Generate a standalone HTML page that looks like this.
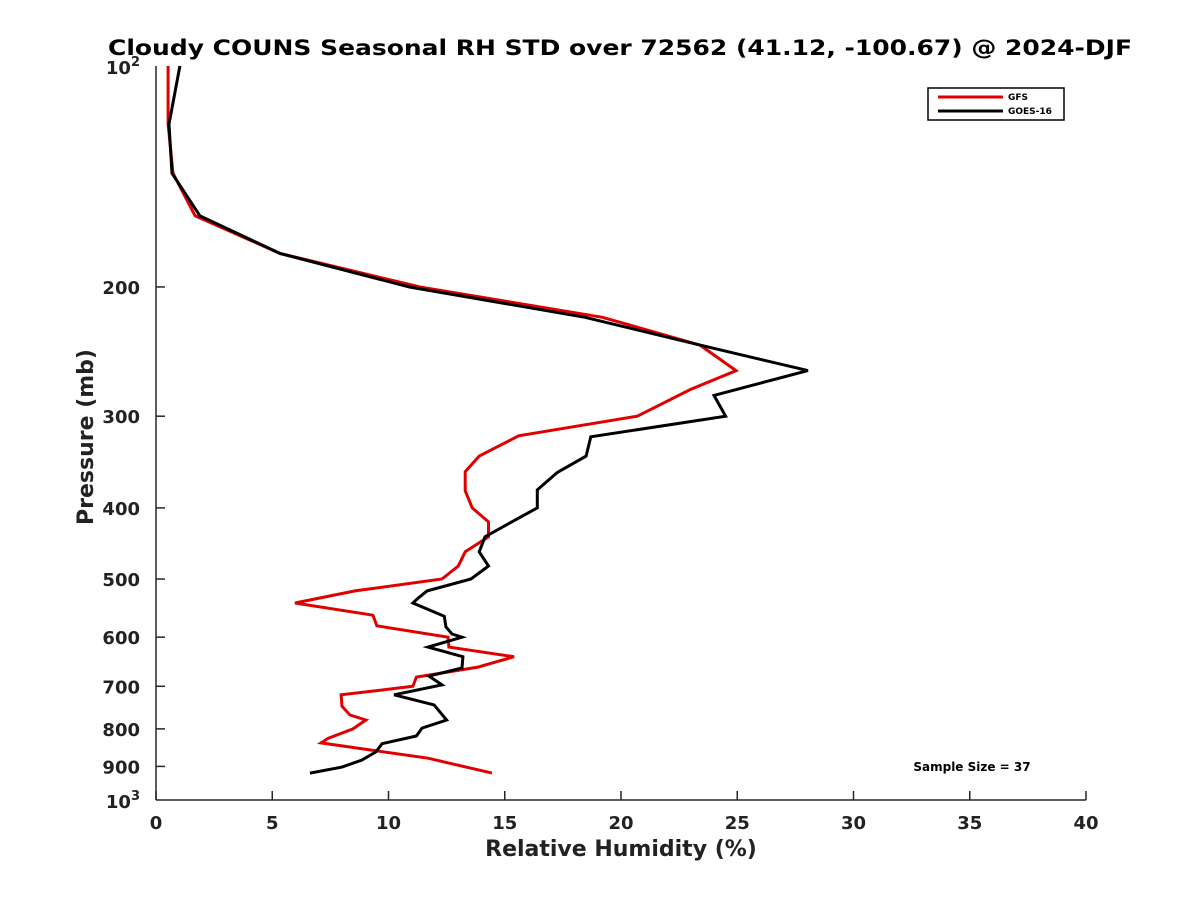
<!DOCTYPE html>
<html><head><meta charset="utf-8"><style>
html,body{margin:0;padding:0;background:#fff;}
svg{display:block;font-family:"DejaVu Sans","Liberation Sans",sans-serif;}
</style></head><body>
<svg id="chart" width="1200" height="900">
<rect width="1200" height="900" fill="#fff"/>
<text x="620" y="55" text-anchor="middle" font-size="21" font-weight="bold" fill="#000" textLength="1024" lengthAdjust="spacingAndGlyphs">Cloudy COUNS Seasonal RH STD over 72562 (41.12, -100.67) @ 2024-DJF</text>
<g id="axes"></g>
<g id="series"></g>
<g>
<rect x="928" y="88" width="136" height="32" fill="#fff" stroke="#000" stroke-width="1.5"/>
<line x1="938" y1="97" x2="1003" y2="97" stroke="#e00000" stroke-width="3"/>
<text x="1008" y="100" font-size="9" font-weight="bold">GFS</text>
<line x1="938" y1="111" x2="1003" y2="111" stroke="#000" stroke-width="3"/>
<text x="1008" y="114" font-size="9" font-weight="bold">GOES-16</text>
</g>
<text x="972" y="771" text-anchor="middle" font-size="12" font-weight="bold">Sample Size = 37</text>
<text x="621" y="856" text-anchor="middle" font-size="22" font-weight="bold" fill="#222">Relative Humidity (%)</text>
<text transform="translate(93,437) rotate(-90)" text-anchor="middle" font-size="22" font-weight="bold" fill="#222">Pressure (mb)</text>
</svg>
<script>
const xTicks=[0,5,10,15,20,25,30,35,40];
const yTicks=[200,300,400,500,600,700,800,900];
const gfsRH=[0.52,0.52,0.73,1.68,5.33,11.35,19.2,23.4,24.95,22.97,20.7,15.6,13.9,13.3,13.3,13.6,14.3,14.3,13.3,13.0,12.3,8.56,5.98,9.33,9.5,12.56,12.6,15.4,13.85,11.2,11.05,7.96,8.0,8.34,9.03,8.47,7.4,7.1,11.7,14.45];
const gfsP=[100,120,140,160,180,200,220,240,260,276,300,319,340,357,379,400,418,438,459,480,500,519,539,560,579,600,619,638,659,680,700,719,745,766,778,800,824,836,877,919];
const goesRH=[1.03,0.56,0.69,1.89,5.33,10.9,18.45,23.4,28.04,24.0,24.5,18.7,18.5,17.25,16.4,16.4,15.3,14.15,13.9,14.3,13.55,11.66,11.27,11.05,12.4,12.47,12.73,13.16,11.7,13.2,13.16,11.74,12.3,10.24,11.96,12.5,11.44,11.2,9.72,9.46,8.86,8.0,6.62];
const goesP=[100,120,140,160,180,200,220,240,260,281,300,320,340,358,378,400,418,438,459,480,500,519,531,539,562,581,594,600,619,638,661,678,697,719,742,778,798,818,838,860,882,902,919];
const NS='http://www.w3.org/2000/svg';
const X0=156,X1=1086,Y0=66,Y1=800;
function xs(v){return X0+(v-0)/40*(X1-X0);}
function ys(p){return Y0+(Math.log10(p)-2)*(Y1-Y0);}
const axes=document.getElementById('axes');
function mk(tag,attrs,parent){const e=document.createElementNS(NS,tag);for(const k in attrs)e.setAttribute(k,attrs[k]);parent.appendChild(e);return e;}
const la=mk('line',{x1:X0,y1:Y0,x2:X0,y2:Y1,stroke:'#262626','stroke-width':1.5},axes);


const ba=mk('line',{x1:X0,y1:Y1,x2:X1,y2:Y1,stroke:'#262626','stroke-width':1.5},axes);


xTicks.forEach(v=>{
 const t=mk('line',{x1:xs(v),y1:Y1,x2:xs(v),y2:Y1-9,stroke:'#262626','stroke-width':1.5},axes);
 
 
 const l=mk('text',{x:xs(v),y:Y1+29,'text-anchor':'middle','font-size':18,'font-weight':'bold',fill:'#222'},axes);
 l.textContent=v;
 
 
});
yTicks.forEach(p=>{
 const t=mk('line',{x1:X0,y1:ys(p),x2:X0+9,y2:ys(p),stroke:'#262626','stroke-width':1.5},axes);
 
 
 const l=mk('text',{x:X0-16,y:ys(p)+7,'text-anchor':'end','font-size':18,'font-weight':'bold',fill:'#222'},axes);
 l.textContent=p;
 
 
});
[[100,'2'],[1000,'3']].forEach(([p,e])=>{
 const l=mk('text',{x:X0-16,y:ys(p)+8,'text-anchor':'end','font-size':18,'font-weight':'bold',fill:'#222'},axes);
 
 
 const a=mk('tspan',{},l);a.textContent='10';
 const b=mk('tspan',{dy:-8,'font-size':13},l);b.textContent=e;
});
const ser=document.getElementById('series');
function draw(rh,p,color,name){
 const pts=rh.map((v,i)=>xs(v).toFixed(1)+','+ys(p[i]).toFixed(1)).join(' ');
 const pl=mk('polyline',{points:pts,fill:'none',stroke:color,'stroke-width':3,'stroke-linejoin':'miter'},ser);
 
 
}
draw(gfsRH,gfsP,'#e00000','gfs-line');
draw(goesRH,goesP,'#000','goes-16-line');
</script>
</body></html>
